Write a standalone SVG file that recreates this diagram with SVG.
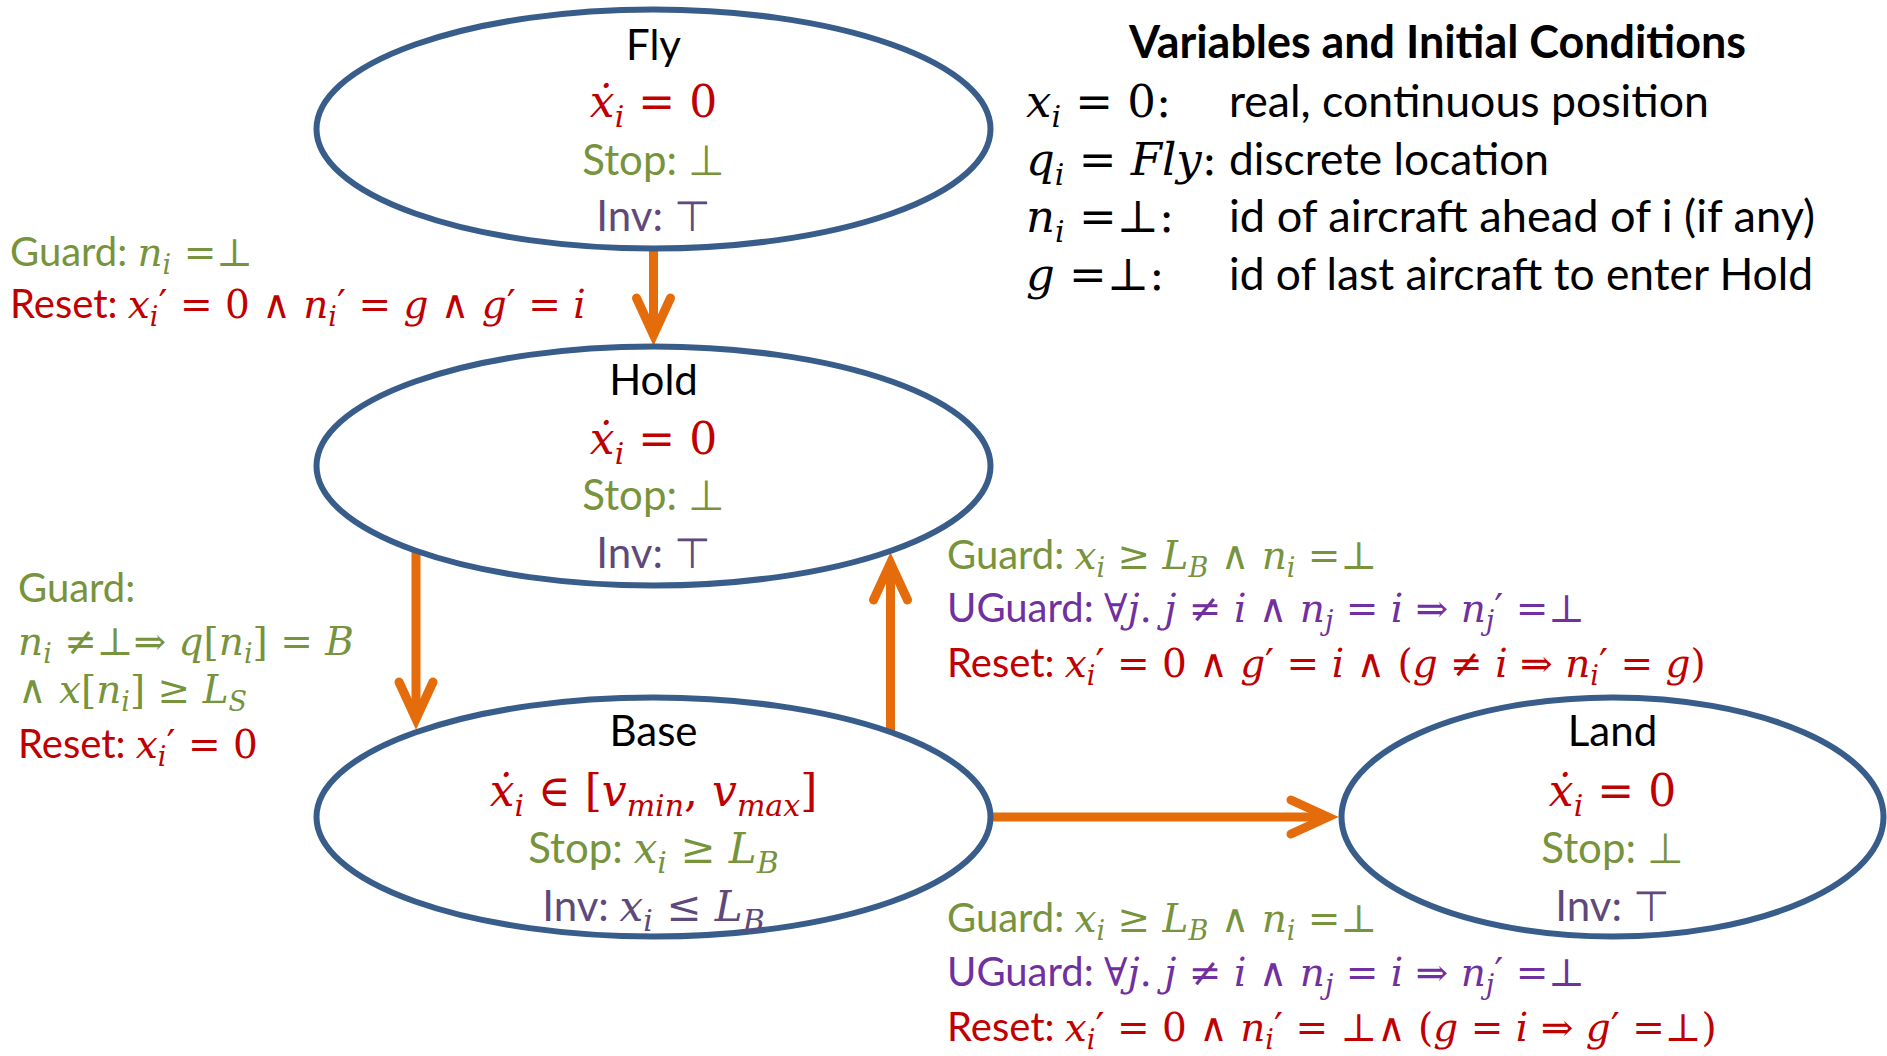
<svg xmlns="http://www.w3.org/2000/svg" width="1887" height="1056" viewBox="0 0 1887 1056">
<style>
.bg{fill:#fff}
.st{fill:#fff;stroke:#385D8A;stroke-width:6}
.sn{font-family:Lato,"Liberation Sans",sans-serif}
.nt{font-size:42px;text-anchor:middle}
.nm{font-size:44px;text-anchor:middle}
.lbl{font-size:40px}
.lbl2{font-size:45px}
.ml{font-size:39px}
.ttl{font-size:45px;font-weight:bold}
.v{font-family:"DejaVu Serif",serif;font-style:italic}
.o{font-family:"DejaVu Serif",serif;font-style:normal}
.s{font-family:"DejaVu Serif",serif;font-style:italic;font-size:27px}
.s2{font-family:"DejaVu Serif",serif;font-style:italic;font-size:30px}
.p{font-family:"DejaVu Serif",serif;font-style:normal;font-size:40px}
.red{fill:#C00000}.grn{fill:#77933C}.pur{fill:#5F497A}.vio{fill:#7030A0}.blk{fill:#000}
.arr{stroke:#E46C0A;stroke-width:9;fill:none;marker-end:url(#ah)}
</style>
<defs>
<marker id="ah" markerUnits="userSpaceOnUse" markerWidth="64" markerHeight="54" viewBox="0 0 64 54" refX="46" refY="27" orient="auto">
<path d="M9,10 L46,27 L9,44" fill="none" stroke="#E46C0A" stroke-width="9" stroke-linejoin="miter" stroke-linecap="round" stroke-miterlimit="10"/>
</marker>
</defs>
<rect class="bg" width="1887" height="1056"/>

<g id="connectors">
<line class="arr" x1="653.5" y1="250" x2="653.5" y2="335"/>
<line class="arr" x1="416" y1="551" x2="416" y2="719"/>
<line class="arr" x1="890.5" y1="732" x2="890.5" y2="563"/>
<line class="arr" x1="990" y1="817" x2="1328" y2="817"/>
</g>

<g id="fly">
<ellipse class="st" cx="653.5" cy="129" rx="337" ry="119.5"/>
<text class="sn nt blk" x="653.5" y="60">Fly</text>
<text class="nm red" x="653.5" y="117"><tspan class="v">ẋ</tspan><tspan class="s2" dy="10">i</tspan><tspan class="o" dy="-10"> = 0</tspan></text>
<text class="sn nt grn" x="653.5" y="175">Stop: ⊥</text>
<text class="sn nt pur" x="653.5" y="231">Inv: ⊤</text>
</g>

<g id="hold">
<ellipse class="st" cx="653.5" cy="466" rx="337" ry="119.5"/>
<text class="sn nt blk" x="653.5" y="395">Hold</text>
<text class="nm red" x="653.5" y="454"><tspan class="v">ẋ</tspan><tspan class="s2" dy="10">i</tspan><tspan class="o" dy="-10"> = 0</tspan></text>
<text class="sn nt grn" x="653.5" y="510">Stop: ⊥</text>
<text class="sn nt pur" x="653.5" y="568">Inv: ⊤</text>
</g>

<g id="base">
<ellipse class="st" cx="653.5" cy="817" rx="337" ry="119.5"/>
<text class="sn nt blk" x="653.5" y="746">Base</text>
<text class="nm red" x="653.5" y="806"><tspan class="v">ẋ</tspan><tspan class="s2" dy="10">i</tspan><tspan class="o" dy="-10"> ∈ [</tspan><tspan class="v">v</tspan><tspan class="s2" dy="10">min</tspan><tspan class="o" dy="-10">, </tspan><tspan class="v">v</tspan><tspan class="s2" dy="10">max</tspan><tspan class="o" dy="-10">]</tspan></text>
<text class="sn nt grn" x="653.5" y="863">Stop: <tspan class="v">x</tspan><tspan class="s2" dy="10">i</tspan><tspan class="o" dy="-10"> ≥ </tspan><tspan class="v">L</tspan><tspan class="s2" dy="10">B</tspan></text>
<text class="sn nt pur" x="653.5" y="921">Inv: <tspan class="v">x</tspan><tspan class="s2" dy="10">i</tspan><tspan class="o" dy="-10"> ≤ </tspan><tspan class="v">L</tspan><tspan class="s2" dy="10">B</tspan></text>
</g>

<g id="land">
<ellipse class="st" cx="1612.5" cy="817" rx="271" ry="119.5"/>
<text class="sn nt blk" x="1612.5" y="746">Land</text>
<text class="nm red" x="1612.5" y="806"><tspan class="v">ẋ</tspan><tspan class="s2" dy="10">i</tspan><tspan class="o" dy="-10"> = 0</tspan></text>
<text class="sn nt grn" x="1612.5" y="863">Stop: ⊥</text>
<text class="sn nt pur" x="1612.5" y="921">Inv: ⊤</text>
</g>

<g id="label-fly-hold">
<text class="sn lbl grn" x="10" y="266">Guard: <tspan class="v ml">n</tspan><tspan class="s" dy="8">i</tspan><tspan class="o ml" dy="-8"> =⊥</tspan></text>
<text class="sn lbl red" x="10" y="318">Reset: <tspan class="v ml">x</tspan><tspan class="s" dy="8">i</tspan><tspan class="p" dy="-8">′</tspan><tspan class="o ml"> = 0 ∧ </tspan><tspan class="v ml">n</tspan><tspan class="s" dy="8">i</tspan><tspan class="p" dy="-8">′</tspan><tspan class="o ml"> = </tspan><tspan class="v ml">g</tspan><tspan class="o ml"> ∧ </tspan><tspan class="v ml">g</tspan><tspan class="p">′</tspan><tspan class="o ml"> = </tspan><tspan class="v ml">i</tspan></text>
</g>

<g id="label-hold-base">
<text class="sn lbl grn" x="18" y="602">Guard:</text>
<text class="sn lbl grn" x="18" y="655"><tspan class="v ml">n</tspan><tspan class="s" dy="8">i</tspan><tspan class="o ml" dy="-8"> ≠⊥⇒ </tspan><tspan class="v ml">q</tspan><tspan class="o ml">[</tspan><tspan class="v ml">n</tspan><tspan class="s" dy="8">i</tspan><tspan class="o ml" dy="-8">] = </tspan><tspan class="v ml">B</tspan></text>
<text class="sn lbl grn" x="18" y="703"><tspan class="o ml">∧ </tspan><tspan class="v ml">x</tspan><tspan class="o ml">[</tspan><tspan class="v ml">n</tspan><tspan class="s" dy="8">i</tspan><tspan class="o ml" dy="-8">] ≥ </tspan><tspan class="v ml">L</tspan><tspan class="s" dy="8">S</tspan></text>
<text class="sn lbl red" x="18" y="758">Reset: <tspan class="v ml">x</tspan><tspan class="s" dy="8">i</tspan><tspan class="p" dy="-8">′</tspan><tspan class="o ml"> = 0</tspan></text>
</g>

<g id="label-base-hold">
<text class="sn lbl grn" x="947" y="569">Guard: <tspan class="v ml">x</tspan><tspan class="s" dy="8">i</tspan><tspan class="o ml" dy="-8"> ≥ </tspan><tspan class="v ml">L</tspan><tspan class="s" dy="8">B</tspan><tspan class="o ml" dy="-8"> ∧ </tspan><tspan class="v ml">n</tspan><tspan class="s" dy="8">i</tspan><tspan class="o ml" dy="-8"> =⊥</tspan></text>
<text class="sn lbl vio" x="947" y="622">UGuard: <tspan class="o ml">∀</tspan><tspan class="v ml">j</tspan><tspan class="o ml">. </tspan><tspan class="v ml">j</tspan><tspan class="o ml"> ≠ </tspan><tspan class="v ml">i</tspan><tspan class="o ml"> ∧ </tspan><tspan class="v ml">n</tspan><tspan class="s" dy="8">j</tspan><tspan class="o ml" dy="-8"> = </tspan><tspan class="v ml">i</tspan><tspan class="o ml"> ⇒ </tspan><tspan class="v ml">n</tspan><tspan class="s" dy="8">j</tspan><tspan class="p" dy="-8">′</tspan><tspan class="o ml"> =⊥</tspan></text>
<text class="sn lbl red" x="947" y="677">Reset: <tspan class="v ml">x</tspan><tspan class="s" dy="8">i</tspan><tspan class="p" dy="-8">′</tspan><tspan class="o ml"> = 0 ∧ </tspan><tspan class="v ml">g</tspan><tspan class="p">′</tspan><tspan class="o ml"> = </tspan><tspan class="v ml">i</tspan><tspan class="o ml"> ∧ (</tspan><tspan class="v ml">g</tspan><tspan class="o ml"> ≠ </tspan><tspan class="v ml">i</tspan><tspan class="o ml"> ⇒ </tspan><tspan class="v ml">n</tspan><tspan class="s" dy="8">i</tspan><tspan class="p" dy="-8">′</tspan><tspan class="o ml"> = </tspan><tspan class="v ml">g</tspan><tspan class="o ml">)</tspan></text>
</g>

<g id="label-base-land">
<text class="sn lbl grn" x="947" y="932">Guard: <tspan class="v ml">x</tspan><tspan class="s" dy="8">i</tspan><tspan class="o ml" dy="-8"> ≥ </tspan><tspan class="v ml">L</tspan><tspan class="s" dy="8">B</tspan><tspan class="o ml" dy="-8"> ∧ </tspan><tspan class="v ml">n</tspan><tspan class="s" dy="8">i</tspan><tspan class="o ml" dy="-8"> =⊥</tspan></text>
<text class="sn lbl vio" x="947" y="986">UGuard: <tspan class="o ml">∀</tspan><tspan class="v ml">j</tspan><tspan class="o ml">. </tspan><tspan class="v ml">j</tspan><tspan class="o ml"> ≠ </tspan><tspan class="v ml">i</tspan><tspan class="o ml"> ∧ </tspan><tspan class="v ml">n</tspan><tspan class="s" dy="8">j</tspan><tspan class="o ml" dy="-8"> = </tspan><tspan class="v ml">i</tspan><tspan class="o ml"> ⇒ </tspan><tspan class="v ml">n</tspan><tspan class="s" dy="8">j</tspan><tspan class="p" dy="-8">′</tspan><tspan class="o ml"> =⊥</tspan></text>
<text class="sn lbl red" x="947" y="1041">Reset: <tspan class="v ml">x</tspan><tspan class="s" dy="8">i</tspan><tspan class="p" dy="-8">′</tspan><tspan class="o ml"> = 0 ∧ </tspan><tspan class="v ml">n</tspan><tspan class="s" dy="8">i</tspan><tspan class="p" dy="-8">′</tspan><tspan class="o ml"> = ⊥∧ (</tspan><tspan class="v ml">g</tspan><tspan class="o ml"> = </tspan><tspan class="v ml">i</tspan><tspan class="o ml"> ⇒ </tspan><tspan class="v ml">g</tspan><tspan class="p">′</tspan><tspan class="o ml"> =⊥)</tspan></text>
</g>

<g id="variables">
<text class="sn ttl blk" x="1129" y="58" textLength="617" lengthAdjust="spacingAndGlyphs">Variables and Initial Conditions</text>
<text class="sn lbl2 blk" x="1026" y="117"><tspan class="v">x</tspan><tspan class="s2" dy="10">i</tspan><tspan class="o" dy="-10"> = 0:</tspan></text>
<text class="sn lbl2 blk" x="1026" y="175"><tspan class="v">q</tspan><tspan class="s2" dy="10">i</tspan><tspan class="o" dy="-10"> = </tspan><tspan class="v">Fly</tspan><tspan class="o">:</tspan></text>
<text class="sn lbl2 blk" x="1026" y="232"><tspan class="v">n</tspan><tspan class="s2" dy="10">i</tspan><tspan class="o" dy="-10"> =⊥:</tspan></text>
<text class="sn lbl2 blk" x="1026" y="290"><tspan class="v">g</tspan><tspan class="o"> =⊥:</tspan></text>
<text class="sn lbl2 blk" x="1229" y="117" textLength="480" lengthAdjust="spacingAndGlyphs">real, continuous position</text>
<text class="sn lbl2 blk" x="1229" y="175" textLength="320" lengthAdjust="spacingAndGlyphs">discrete location</text>
<text class="sn lbl2 blk" x="1229" y="232" textLength="586" lengthAdjust="spacingAndGlyphs">id of aircraft ahead of i (if any)</text>
<text class="sn lbl2 blk" x="1229" y="290" textLength="584" lengthAdjust="spacingAndGlyphs">id of last aircraft to enter Hold</text>
</g>
</svg>
